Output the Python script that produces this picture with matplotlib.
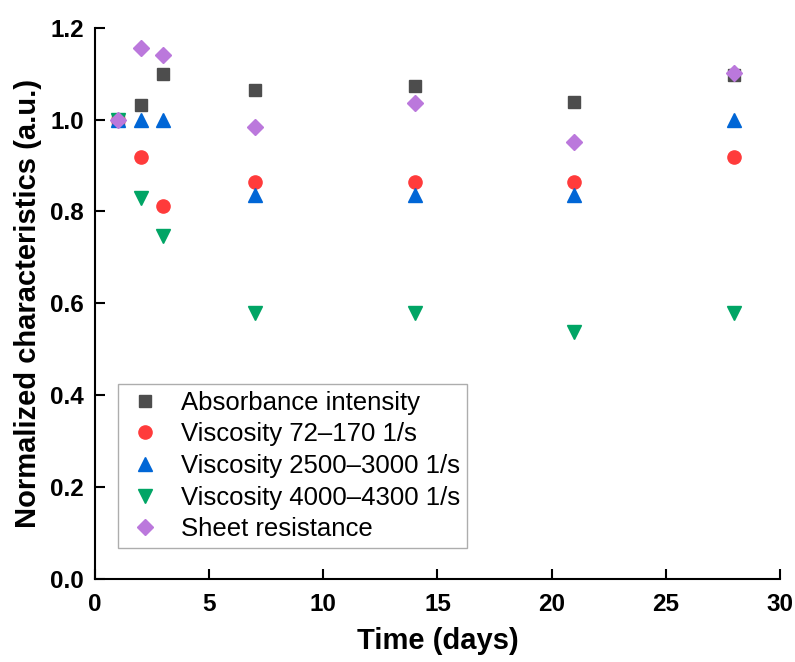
import matplotlib.pyplot as plt

days = [1, 2, 3, 7, 14, 21, 28]
absorbance = [1.0, 1.032, 1.099, 1.065, 1.073, 1.038, 1.097]
visc_72_170 = [1.0, 0.919, 0.811, 0.865, 0.865, 0.865, 0.919]
visc_2500_3000 = [1.0, 1.0, 1.0, 0.836, 0.836, 0.836, 1.0]
visc_4000_4300 = [1.0, 0.829, 0.746, 0.579, 0.579, 0.537, 0.579]
sheet_res = [1.0, 1.155, 1.140, 0.985, 1.037, 0.952, 1.102]

labels = ['Absorbance intensity', 'Viscosity 72\u2013170 1/s',
          'Viscosity 2500\u20133000 1/s', 'Viscosity 4000\u20134300 1/s',
          'Sheet resistance']

plt.rcParams['font.family'] = ['Liberation Sans', 'DejaVu Sans']

fig = plt.figure(figsize=(7.95, 6.62), dpi=100)
ax = fig.add_axes([0.1195, 0.1258, 0.8615, 0.8322])

ax.plot(days, absorbance, 's', color='#4d4d4d', ms=8.5, label=labels[0], zorder=3)
ax.plot(days, visc_72_170, 'o', color='#ff3b3b', ms=9.5, label=labels[1], zorder=3)
ax.plot(days, visc_2500_3000, '^', color='#0066d6', ms=10.5, label=labels[2], zorder=3)
ax.plot(days, visc_4000_4300, 'v', color='#00a565', ms=10.5, label=labels[3], zorder=3)
ax.plot(days, sheet_res, 'D', color='#bb78dc', ms=8.5, label=labels[4], zorder=4)

ax.set_xlim(0, 30)
ax.set_ylim(0, 1.2)
ax.set_xticks([0, 5, 10, 15, 20, 25, 30])
ax.set_yticks([0.0, 0.2, 0.4, 0.6, 0.8, 1.0, 1.2])
ax.set_yticklabels(['0.0', '0.2', '0.4', '0.6', '0.8', '1.0', '1.2'])

for s in ['top', 'right']:
    ax.spines[s].set_visible(False)
for s in ['left', 'bottom']:
    ax.spines[s].set_linewidth(1.5)

ax.tick_params(direction='in', length=7, width=1.5, labelsize=17.5)
ax.tick_params(axis='x', pad=10)
ax.tick_params(axis='y', pad=8)
for t in ax.get_xticklabels() + ax.get_yticklabels():
    t.set_fontweight('bold')

ax.set_xlabel('Time (days)', fontsize=21, fontweight='bold', labelpad=8)
ax.set_ylabel('Normalized characteristics (a.u.)', fontsize=21, fontweight='bold', labelpad=6)

leg = ax.legend(loc='lower left', bbox_to_anchor=(0.034, 0.056), fontsize=18.5,
                frameon=True, fancybox=False, edgecolor='#999999',
                handletextpad=0.6, labelspacing=0.3, borderpad=0.25,
                handlelength=1.6, borderaxespad=0)
leg.get_frame().set_linewidth(1.0)

fig.savefig('out.png', dpi=100)
